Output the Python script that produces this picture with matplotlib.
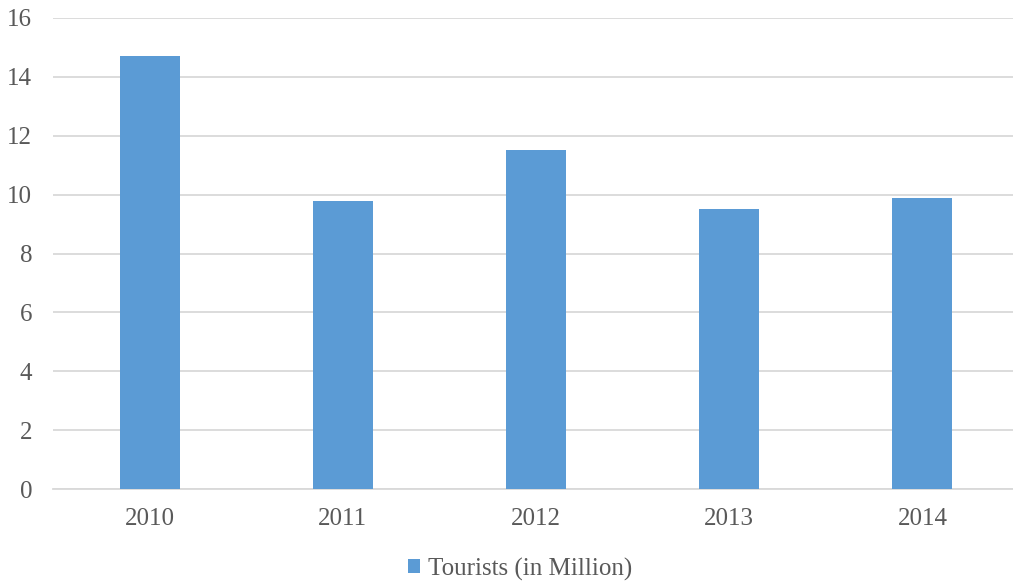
import matplotlib.pyplot as plt

years = ["2010", "2011", "2012", "2013", "2014"]
tourists = [14.7, 9.8, 11.5, 9.5, 9.9]
y_ticks = [0, 2, 4, 6, 8, 10, 12, 14, 16]

plt.rcParams["font.family"] = ["Liberation Serif", "DejaVu Serif"]

fig = plt.figure(figsize=(10.13, 5.81), dpi=100)
ax = fig.add_axes([53 / 1013, 92 / 581, 966 / 1013, 471 / 581])

x = range(len(years))
ax.bar(x, tourists, width=0.31, color="#5B9BD5", zorder=3, label="Tourists (in Million)")

ax.set_xlim(-0.5, len(years) - 0.5)
ax.set_ylim(0, 16)
ax.set_yticks(y_ticks)
ax.set_xticks(list(x))
ax.set_xticklabels(years)
ax.yaxis.grid(True, color="#D9D9D9", linewidth=1.3, zorder=0)
ax.tick_params(axis="both", length=0, labelsize=18, colors="#595959")
ax.tick_params(axis="x", pad=14)
ax.tick_params(axis="y", pad=15)
for side in ["top", "right", "left"]:
    ax.spines[side].set_visible(False)
ax.spines["bottom"].set_color("#D9D9D9")
ax.spines["bottom"].set_linewidth(1.3)

leg = fig.legend(loc="center", bbox_to_anchor=(0.513, 12 / 581), frameon=False,
                 fontsize=18, handlelength=0.5, handleheight=0.5, handletextpad=0.3)
for t in leg.get_texts():
    t.set_color("#595959")

fig.savefig("out.png", dpi=100)
